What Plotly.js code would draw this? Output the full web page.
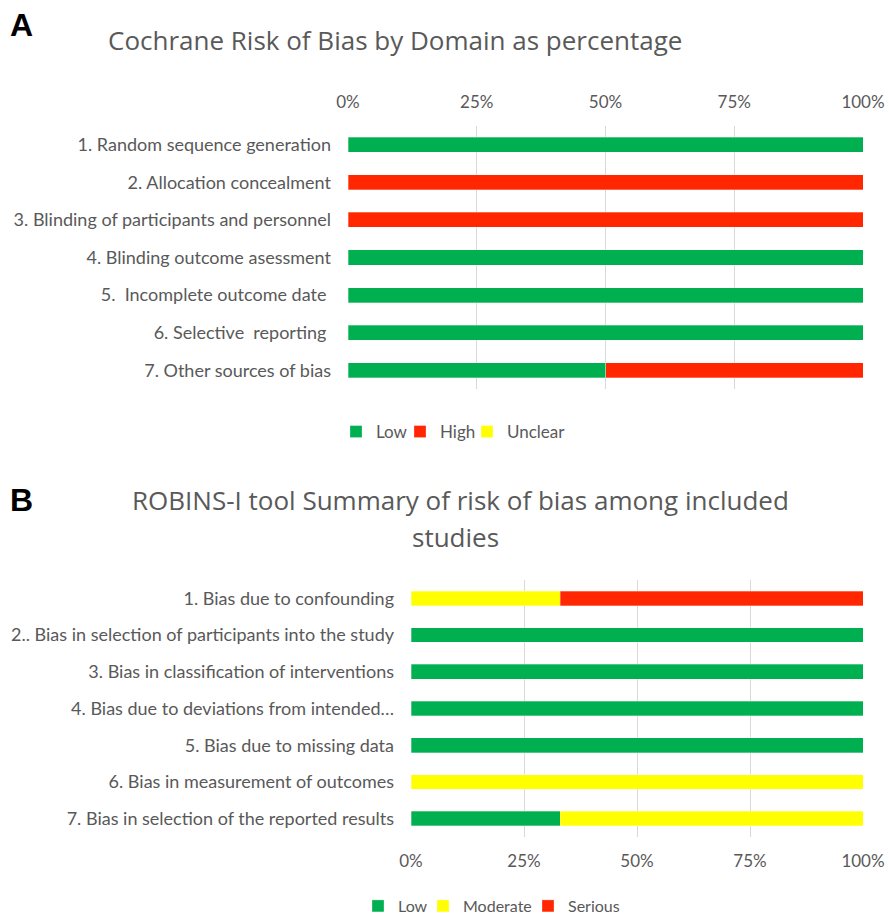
<!DOCTYPE html>
<html><head><meta charset="utf-8">
<script src="https://cdn.plot.ly/plotly-3.0.1.min.js"></script>
<style>html,body{margin:0;padding:0;background:#fff}#c{width:889px;height:915px}</style>
</head><body><div id="c"></div>
<script>
const catsA = ["1. Random sequence generation","2. Allocation concealment","3. Blinding of participants and personnel","4. Blinding outcome asessment","5.  Incomplete outcome date ","6. Selective  reporting ","7. Other sources of bias"];
const lowA = [100,0,0,100,100,100,50];
const highA = [0,100,100,0,0,0,50];
const unclearA = [0,0,0,0,0,0,0];

const catsB = ["1. Bias due to confounding","2.. Bias in selection of participants into the study","3. Bias in classification of interventions","4. Bias due to deviations from intended…","5. Bias due to missing data","6. Bias in measurement of outcomes","7. Bias in selection of the reported results"];
const lowB = [0,100,100,100,100,0,33];
const modB = [33,0,0,0,0,100,67];
const serB = [67,0,0,0,0,0,0];

const tickVals = [0,25,50,75,100];
const tickText = ["0%","25%","50%","75%","100%"];

const GREEN="#00B050", RED="#FF2600", YELLOW="#FFFF00";
const FONT = "Lato, 'Open Sans', sans-serif";
const GRAY = "#595959";

function bar(name, cats, vals, color, xa, ya, leg){
  return {type:"bar", orientation:"h", name:name, y:cats, x:vals, xaxis:xa, yaxis:ya, legend:leg,
    marker:{color:color, line:{color:"rgba(255,255,255,0.6)", width:0.5}}, hoverinfo:"x+y"};
}
const data = [
  bar("Low", catsA, lowA, GREEN, "x", "y", "legend"),
  bar("High", catsA, highA, RED, "x", "y", "legend2"),
  bar("Unclear", catsA, unclearA, YELLOW, "x", "y", "legend3"),
  bar("Low", catsB, lowB, GREEN, "x2", "y2", "legend4"),
  bar("Moderate", catsB, modB, YELLOW, "x2", "y2", "legend5"),
  bar("Serious", catsB, serB, RED, "x2", "y2", "legend6")
];
const W=889,H=915;
const xax = (l,r,side,anchor)=>({domain:[l/W,r/W], range:[0,100], tickvals:tickVals, ticktext:tickText, side:side, anchor:anchor,
  showgrid:true, gridcolor:"#D9D9D9", gridwidth:1, zeroline:false, showline:false, ticks:"", fixedrange:true, automargin:false,
  tickfont:{family:FONT, size:17, color:GRAY}});
const yax = (t,b,anchor)=>({domain:[1-b/H,1-t/H], autorange:"reversed", anchor:anchor, showgrid:false, zeroline:false, showline:false, automargin:false,
  ticks:"", ticklabelstandoff:16, tickfont:{family:FONT, size:18, color:GRAY}, fixedrange:true});
// legend item: left x (px), centre y (px)
function leg(xpx, ypx, fs){
  return {orientation:"h", x:xpx/W, xanchor:"left", y:1-ypx/H, yanchor:"middle", font:{family:FONT,size:fs,color:GRAY}, itemwidth:30, bgcolor:"rgba(0,0,0,0)"};
}
const layout = {
  width:W, height:H, margin:{l:0,r:0,t:0,b:0,autoexpand:false}, paper_bgcolor:"#fff", plot_bgcolor:"#fff",
  barmode:"stack", bargap:0.6, showlegend:true,
  xaxis: Object.assign(xax(348,863,"top","y"), {ticklabelstandoff:14}),
  yaxis: yax(126,389,"x"),
  xaxis2: Object.assign(xax(411,863,"bottom","y2"), {ticklabelstandoff:12}),
  yaxis2: yax(580,837,"x2"),
  legend: leg(336,432,17),
  legend2: leg(400,432,17),
  legend3: leg(467,432,17),
  legend4: leg(358,906,16),
  legend5: leg(423,906,16),
  legend6: leg(528,906,16),
  annotations:[
    {text:"<b>A</b>", x:8/W, y:1-25/H, xref:"paper", yref:"paper", xanchor:"left", yanchor:"middle", showarrow:false, font:{family:"Liberation Sans, Arial", size:32, color:"#000"}},
    {text:"<b>B</b>", x:8/W, y:1-500/H, xref:"paper", yref:"paper", xanchor:"left", yanchor:"middle", showarrow:false, font:{family:"Liberation Sans, Arial", size:32, color:"#000"}},
    {text:"Cochrane Risk of Bias by Domain as percentage", x:395/W, y:1-40/H, xref:"paper", yref:"paper", xanchor:"center", yanchor:"middle", showarrow:false, font:{family:"Open Sans, sans-serif", size:26, color:GRAY}},
    {text:"ROBINS-I tool Summary of risk of bias among included", x:460/W, y:1-500/H, xref:"paper", yref:"paper", xanchor:"center", yanchor:"middle", showarrow:false, font:{family:"Open Sans, sans-serif", size:26, color:GRAY}},
    {text:"studies", x:455/W, y:1-537/H, xref:"paper", yref:"paper", xanchor:"center", yanchor:"middle", showarrow:false, font:{family:"Open Sans, sans-serif", size:26, color:GRAY}}
  ]
};
Plotly.newPlot("c", data, layout, {displayModeBar:false, staticPlot:true});
</script></body></html>
